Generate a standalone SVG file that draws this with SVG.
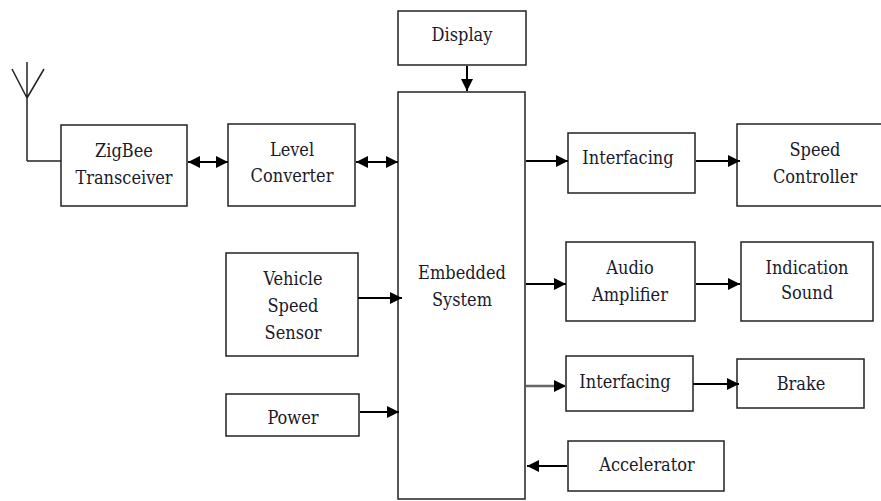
<svg xmlns="http://www.w3.org/2000/svg" width="881" height="501" viewBox="0 0 881 501">
<defs><marker id="a" markerUnits="userSpaceOnUse" markerWidth="13" markerHeight="14" refX="12" refY="7" orient="auto-start-reverse"><path d="M0 1L12 7L0 13Z" fill="#000"/></marker></defs>
<style>
rect{fill:#fff;stroke:#222;stroke-width:1.5}
text{font-family:"DejaVu Serif Condensed","Liberation Serif",serif;font-stretch:condensed;font-size:18px;text-anchor:middle;fill:#1a1a2a}
#c path{fill:none;stroke:#000;stroke-width:2}
#c .s{stroke:#222;stroke-width:1.5}
#c .g{stroke:#666;stroke-width:2.5}
</style>
<g id="display"><rect x="398" y="11" width="128" height="54"/><text x="462" y="41">Display</text></g>
<g id="zigbee"><rect x="61" y="125" width="126" height="81"/><text x="124" y="157">ZigBee</text><text x="124" y="184">Transceiver</text></g>
<g id="level"><rect x="228" y="124" width="127" height="82"/><text x="292" y="156">Level</text><text x="292" y="182">Converter</text></g>
<g id="speedsensor"><rect x="226" y="253" width="132" height="103"/><text x="293" y="285">Vehicle</text><text x="293" y="312">Speed</text><text x="293" y="339">Sensor</text></g>
<g id="power"><rect x="226" y="394" width="133" height="42"/><text x="293" y="424">Power</text></g>
<g id="embedded"><rect x="398" y="92" width="127" height="407"/><text x="462" y="279">Embedded</text><text x="462" y="306">System</text></g>
<g id="if1"><rect x="568" y="133" width="127" height="60"/><text x="628" y="164">Interfacing</text></g>
<g id="speedctl"><rect x="737" y="124" width="146" height="82"/><text x="815" y="156">Speed</text><text x="815" y="183">Controller</text></g>
<g id="audio"><rect x="566" y="242" width="129" height="79"/><text x="630" y="274">Audio</text><text x="630" y="301">Amplifier</text></g>
<g id="indication"><rect x="741" y="242" width="132" height="79"/><text x="807" y="274">Indication</text><text x="807" y="299">Sound</text></g>
<g id="if2"><rect x="566" y="356" width="127" height="55"/><text x="625" y="388">Interfacing</text></g>
<g id="brake"><rect x="737" y="359" width="127" height="49"/><text x="801" y="390">Brake</text></g>
<g id="accel"><rect x="568" y="441" width="156" height="50"/><text x="647" y="471">Accelerator</text></g>
<g id="c">
<path class="s" d="M27 161V62M27 98L12 69M27 98L44 69M27 161H61"/>
<path marker-start="url(#a)" marker-end="url(#a)" d="M188 162H228"/>
<path marker-start="url(#a)" marker-end="url(#a)" d="M356 162H398"/>
<path marker-end="url(#a)" d="M467 66V91"/>
<path marker-end="url(#a)" d="M358 298H402"/>
<path marker-end="url(#a)" d="M360 412H399"/>
<path marker-end="url(#a)" d="M526 161H568"/>
<path marker-end="url(#a)" d="M696 161H740"/>
<path marker-end="url(#a)" d="M526 284H566"/>
<path marker-end="url(#a)" d="M696 284H740"/>
<path class="g" marker-end="url(#a)" d="M526 386H566"/>
<path marker-end="url(#a)" d="M693 384H739"/>
<path marker-end="url(#a)" d="M567 466H527"/>
</g>
</svg>
